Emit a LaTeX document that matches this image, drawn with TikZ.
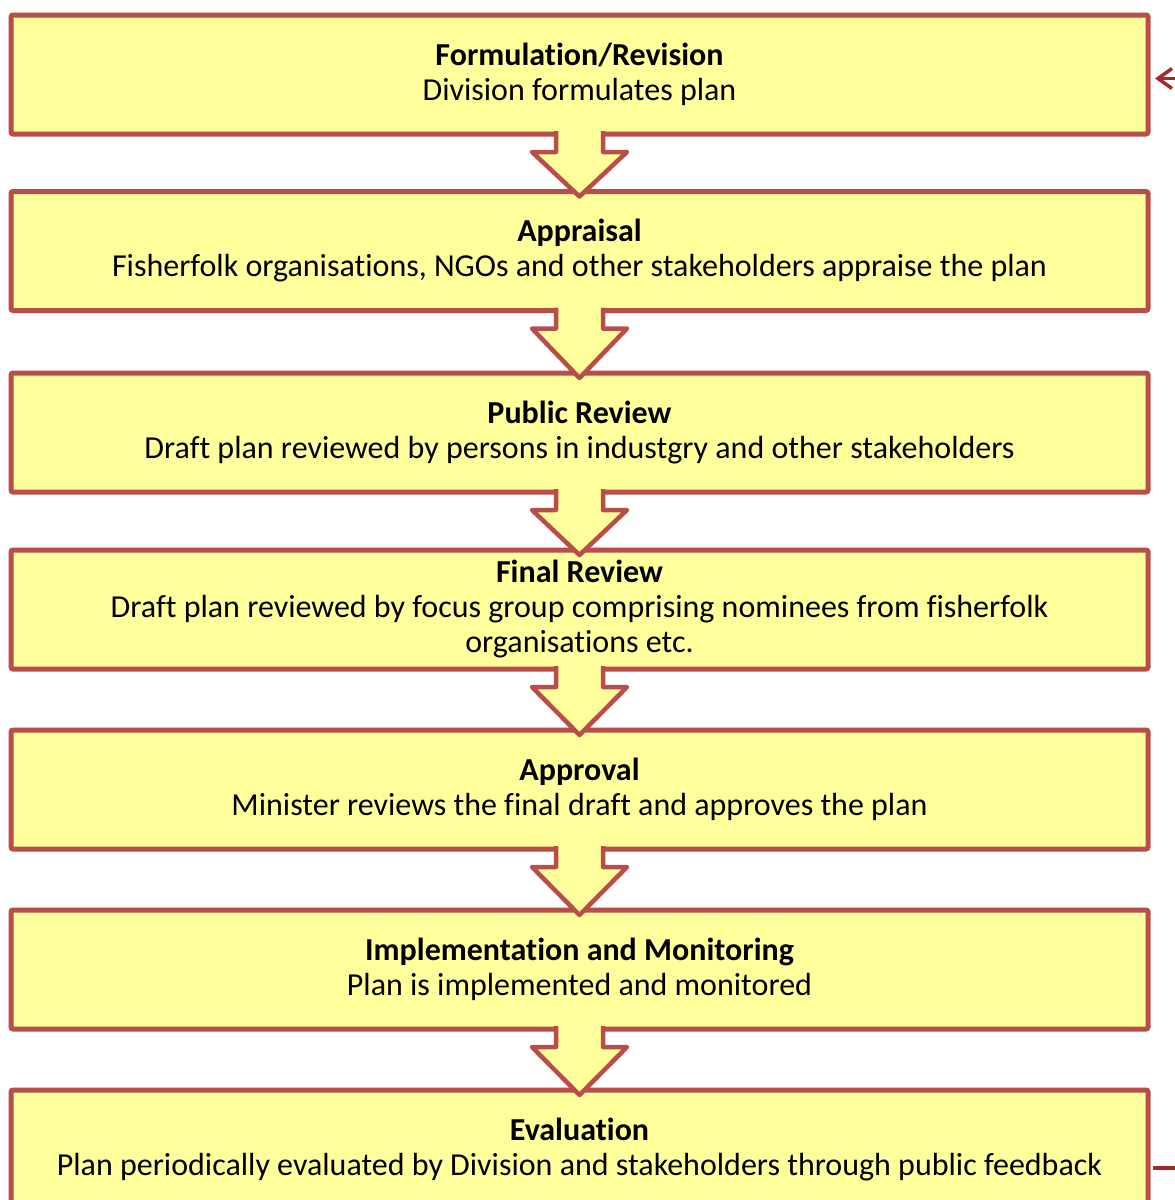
\documentclass[tikz,border=0pt]{standalone}
\usepackage{fontspec}
\setmainfont{Carlito}[Ligatures=NoCommon]
\usetikzlibrary{arrows.meta,calc}
\definecolor{stageline}{RGB}{185,77,73}
\definecolor{stagefill}{RGB}{255,255,156}
\definecolor{loopline}{RGB}{165,42,42}

\begin{document}
\begin{tikzpicture}[x=1pt, y=-1pt, >={Straight Barb[length=14pt,width=20pt]},
  stage/.style={draw=stageline, fill=stagefill, line width=5pt, rounded corners=2pt,
    minimum width=1137pt, minimum height=119pt, inner sep=0pt, outer sep=0pt,
    align=center, font=\fontsize{32}{35}\selectfont},
  blockarrow/.style={draw=stageline, fill=stagefill, line width=4.5pt, line join=round},
  feedback/.style={draw=loopline, line width=3.5pt}]
  \useasboundingbox (0,0) rectangle (1175,1200);
  % Stages
  \node[stage] (form) at (579.5,74.5) {\textbf{Formulation/Revision}\\Division formulates plan};
  \node[stage] (appr) at (579.5,251) {\textbf{Appraisal}\\Fisherfolk organisations, NGOs and other stakeholders appraise the plan};
  \node[stage] (pub) at (579.5,432.5) {\textbf{Public Review}\\Draft plan reviewed by persons in industgry and other stakeholders};
  \node[stage] (fin) at (579.5,609.5) {\textbf{Final Review}\\Draft plan reviewed by focus group comprising nominees from fisherfolk\\organisations etc.};
  \node[stage] (appv) at (579.5,789.5) {\textbf{Approval}\\Minister reviews the final draft and approves the plan};
  \node[stage] (impl) at (579.5,969.5) {\textbf{Implementation and Monitoring}\\Plan is implemented and monitored};
  \node[stage] (eval) at (579.5,1149.5) {\textbf{Evaluation}\\Plan periodically evaluated by Division and stakeholders through public feedback};
  % Block arrows
  \foreach \a/\b in {form/appr, appr/pub, pub/fin, fin/appv, appv/impl, impl/eval} {
    \draw[blockarrow] ($(\a.south)+(-23.5,-3)$) -- ($(\a.south)+(-23.5,18)$)
      -- ($(\a.south)+(-47.5,18)$) -- ($(\b.north)+(0,5)$)
      -- ($(\a.south)+(47.5,18)$) -- ($(\a.south)+(23.5,18)$)
      -- ($(\a.south)+(23.5,-3)$);
  }
  % Feedback loop
  \coordinate (loopin) at ($(form.east)+(7,4)$);
  \coordinate (loopout) at ($(eval.east)+(5,18.5)$);
  \draw[feedback, ->] (loopout) -- ++(80,0) |- (loopin);
\end{tikzpicture}
\end{document}
